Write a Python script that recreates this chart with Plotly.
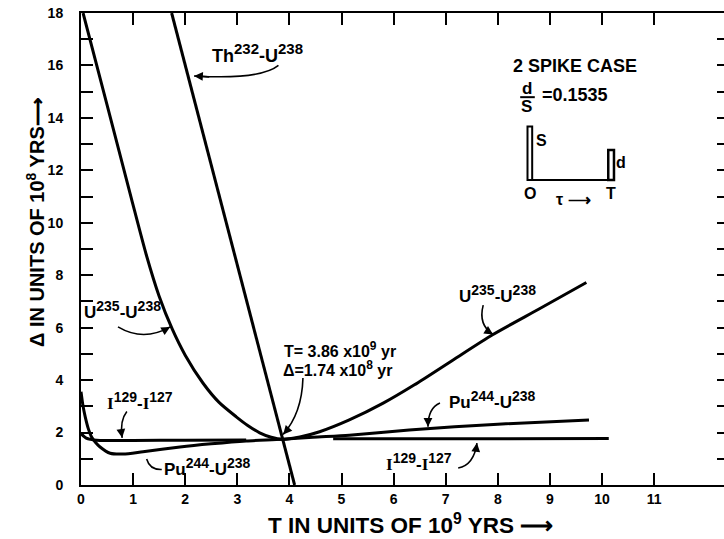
import plotly.graph_objects as go

# ---------------- data ----------------
th_x = [1.74, 3.86, 4.10]
th_y = [18.0, 1.74, 0.0]

u235_x = [0.04, 0.50, 0.97, 1.25, 1.50, 1.75, 2.00, 2.34, 2.65, 2.98, 3.20, 3.43,
          3.65, 3.86, 4.20, 4.58, 5.15, 5.80, 6.40, 7.15, 7.90, 8.80, 9.70]
u235_y = [18.0, 14.5, 10.9, 8.8, 7.2, 5.95, 4.95, 3.89, 3.15, 2.60, 2.27, 1.99,
          1.82, 1.74, 1.83, 2.03, 2.48, 3.12, 3.82, 4.78, 5.73, 6.72, 7.72]

pu_x = [0.0, 0.04, 0.08, 0.14, 0.20, 0.28, 0.36, 0.56, 0.81, 1.19, 1.90, 2.50,
        3.17, 3.86, 4.45, 5.15, 6.30, 8.00, 9.75]
pu_y = [3.56, 3.0, 2.61, 2.15, 1.84, 1.62, 1.46, 1.21, 1.18, 1.27, 1.45, 1.57,
        1.68, 1.74, 1.82, 1.90, 2.10, 2.32, 2.48]

i129_left_x = [0.0, 0.05, 0.10, 0.18, 0.30, 0.50, 1.00, 2.00, 3.17]
i129_left_y = [1.97, 1.86, 1.79, 1.74, 1.71, 1.70, 1.70, 1.71, 1.72]
i129_right_x = [4.84, 10.13]
i129_right_y = [1.76, 1.77]

x_ticks = list(range(0, 12))
y_ticks = list(range(0, 19))
y_ticktext = [str(v) if v % 2 == 0 else "" for v in y_ticks]
right_ticks = list(range(1, 18))

# ---------------- figure ----------------
W, H = 724, 539
ML, MR, MT, MB = 81, 0, 13, 54
X_MAX = (W - ML - MR) / 52.1

FONT = "Liberation Sans"
LW = 3

fig = go.Figure()

def curve(x, y, shape="spline"):
    fig.add_trace(go.Scatter(x=x, y=y, mode="lines",
                             line=dict(color="black", width=LW, shape=shape, smoothing=0.7),
                             hoverinfo="skip", showlegend=False))

curve(th_x, th_y, "linear")
curve(u235_x, u235_y)
curve(pu_x, pu_y)
curve(i129_left_x + [None] + i129_right_x, i129_left_y + [None] + i129_right_y)
# carrier trace for the right-hand tick axis
fig.add_trace(go.Scatter(x=[None], y=[None], yaxis="y2", showlegend=False, hoverinfo="skip"))

def curved_arrow(p0, c, p1):
    fig.add_shape(type="path", xref="x", yref="y",
                  path=f"M {p0[0]},{p0[1]} Q {c[0]},{c[1]} {p1[0]},{p1[1]}",
                  line=dict(color="black", width=1.6))
    ax = p1[0] + 0.25 * (c[0] - p1[0])
    ay = p1[1] + 0.25 * (c[1] - p1[1])
    fig.add_annotation(x=p1[0], y=p1[1], ax=ax, ay=ay, axref="x", ayref="y",
                       xref="x", yref="y", text="", showarrow=True,
                       arrowhead=2, arrowsize=1.1, arrowwidth=1.6, arrowcolor="black")

def label(x, y, text, size=17, xanchor="center"):
    fig.add_annotation(x=x, y=y, xref="x", yref="y", text=text, showarrow=False,
                       xanchor=xanchor, yanchor="middle",
                       font=dict(family=FONT, size=size, color="black", weight="bold"))

def sp(s, size=14):
    return f'<sup><span style="font-size:{size}px">{s}</span></sup>'

SI = '<span style="font-family:Liberation Serif">I</span>'

label(3.38, 16.48, f"Th{sp(232, 15)}-U{sp(238, 15)}", size=18)
curved_arrow((3.79, 16.0), (3.45, 15.45), (2.17, 15.6))

label(0.79, 6.67, f"U{sp(235)}-U{sp(238)}")
curved_arrow((0.71, 6.03), (1.20, 5.45), (1.71, 6.03))

label(1.13, 3.20, f"{SI}{sp(129)}-{SI}{sp(127)}")
curved_arrow((0.88, 2.80), (0.74, 2.45), (0.79, 1.80))

label(2.42, 0.69, f"Pu{sp(244)}-U{sp(238)}")
curved_arrow((1.55, 0.59), (1.32, 0.57), (1.26, 0.99))

label(3.86, 5.15, f"T= 3.86 x10{sp(9, 12)} yr", size=16, xanchor="left")
label(3.83, 4.46, f"Δ=1.74 x10{sp(8, 12)} yr", size=16, xanchor="left")
curved_arrow((4.26, 4.08), (4.24, 2.73), (3.88, 1.93))

label(8.00, 7.28, f"U{sp(235)}-U{sp(238)}")
curved_arrow((7.72, 6.86), (7.62, 6.10), (7.91, 5.74))

label(7.89, 3.24, f"Pu{sp(244)}-U{sp(238)}")
curved_arrow((6.89, 3.13), (6.66, 2.94), (6.66, 2.22))

label(6.49, 0.88, f"{SI}{sp(129)}-{SI}{sp(127)}")
curved_arrow((7.24, 0.65), (7.54, 0.76), (7.60, 1.60))

# ---- inset: 2 spike case ----
label(9.49, 15.96, "2 SPIKE CASE", size=18)
label(8.56, 15.13, "d", size=17)
label(8.56, 14.44, "S", size=17)
fig.add_shape(type="line", xref="x", yref="y", x0=8.43, x1=8.71, y0=14.79, y1=14.79,
              line=dict(color="black", width=2))
label(8.81, 14.87, "=0.1535", size=18, xanchor="left")
fig.add_shape(type="rect", xref="x", yref="y", x0=8.57, x1=8.66, y0=11.63, y1=13.67,
              line=dict(color="black", width=2))
fig.add_shape(type="rect", xref="x", yref="y", x0=10.12, x1=10.23, y0=11.63, y1=12.78,
              line=dict(color="black", width=2.5))
fig.add_shape(type="line", xref="x", yref="y", x0=8.57, x1=10.23, y0=11.63, y1=11.63,
              line=dict(color="black", width=2))
label(8.84, 13.13, "S", size=16)
label(10.36, 12.30, "d", size=16)
label(8.62, 11.10, "O", size=16)
label(10.17, 11.10, "T", size=16)
label(9.46, 10.87, "τ ⟶", size=16)

# ---- axis titles ----
PW, PH = W - ML - MR, H - MT - MB
fig.add_annotation(x=(410 - ML) / PW, y=(H - MB - 524) / PH,
                   xref="paper", yref="paper", showarrow=False,
                   xanchor="center", yanchor="middle",
                   text="T IN UNITS OF 10<sup>9</sup> YRS ⟶",
                   font=dict(family=FONT, size=22.5, color="black", weight="bold"))
fig.add_annotation(x=(35 - ML) / PW, y=(H - MB - 222) / PH,
                   xref="paper", yref="paper", showarrow=False, textangle=-90,
                   xanchor="center", yanchor="middle",
                   text="Δ IN UNITS OF 10<sup>8</sup> YRS⟶",
                   font=dict(family=FONT, size=20, color="black", weight="bold"))

tickfont = dict(family=FONT, size=14, color="black", weight="bold")
fig.update_layout(
    width=W, height=H,
    margin=dict(l=ML, r=MR, t=MT, b=MB, pad=0),
    paper_bgcolor="white", plot_bgcolor="white",
    showlegend=False,
    xaxis=dict(range=[0, X_MAX], tickvals=x_ticks, ticktext=[str(v) for v in x_ticks],
               ticks="inside", ticklen=12, tickwidth=2, tickcolor="black",
               showline=True, linewidth=2, linecolor="black", mirror="ticks",
               showgrid=False, zeroline=False, tickfont=tickfont, ticklabelstandoff=0),
    yaxis=dict(range=[0, 18], tickvals=y_ticks, ticktext=y_ticktext,
               ticks="inside", ticklen=12, tickwidth=2, tickcolor="black",
               showline=True, linewidth=2, linecolor="black", mirror=False,
               showgrid=False, zeroline=False, tickfont=tickfont, ticklabelstandoff=13),
    yaxis2=dict(range=[0, 18], overlaying="y", side="right", tickvals=right_ticks,
                ticks="inside", ticklen=7, tickwidth=2, tickcolor="black",
                showticklabels=False, showline=False, showgrid=False, zeroline=False),
)

fig.write_html("out.html", config={"displayModeBar": False},
               post_script="document.body.style.margin='0';document.body.style.padding='0';"
                           "document.documentElement.style.overflow='hidden';")
